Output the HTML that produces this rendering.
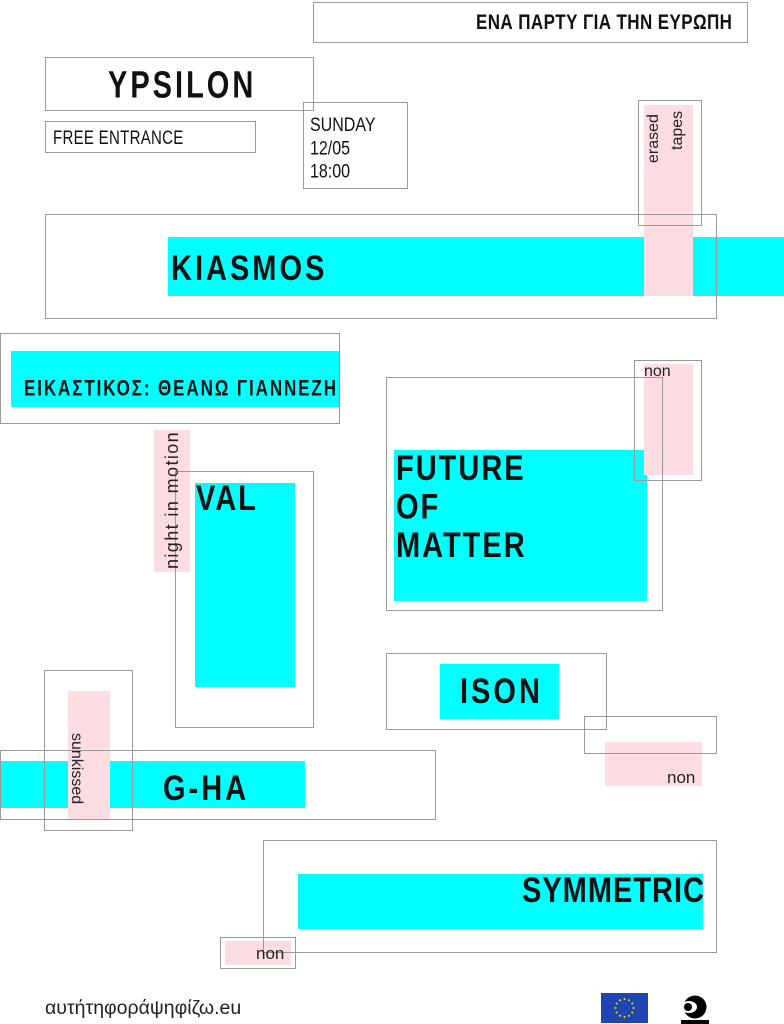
<!DOCTYPE html>
<html><head><meta charset="utf-8"><style>
html,body{margin:0;padding:0;background:#fff;}
body{width:784px;height:1024px;position:relative;overflow:hidden;font-family:"Liberation Sans",sans-serif;}
.b{position:absolute;border:1px solid #9a9a9a;box-sizing:border-box;z-index:3;}
.c{position:absolute;background:#00ffff;z-index:1;}
.p{position:absolute;background:#fddde1;z-index:2;}
.t{position:absolute;z-index:4;font-family:"Liberation Sans Narrow","Liberation Sans",sans-serif;font-weight:bold;color:#111;white-space:nowrap;transform-origin:0 0;}
.s{position:absolute;z-index:4;font-family:"Liberation Sans","DejaVu Sans",sans-serif;color:#222;white-space:nowrap;}
.v{transform:rotate(90deg);transform-origin:0 0;}
.u{transform:rotate(-90deg);transform-origin:0 0;}
</style></head><body>
<div class="b" style="left:313px;top:2px;width:435px;height:41px"></div>
<div class="t" style="left:476px;top:10px;font-size:17px;letter-spacing:0.4px;transform:scaleY(1.25)">ΕΝΑ ΠΑΡΤΥ ΓΙΑ ΤΗΝ ΕΥΡΩΠΗ</div>

<div class="b" style="left:45px;top:57px;width:269px;height:54px"></div>
<div class="t" style="left:108px;top:65px;font-size:29px;letter-spacing:3px;transform:scaleY(1.3)">YPSILON</div>

<div class="b" style="left:45px;top:121px;width:211px;height:32px"></div>
<div class="t" style="left:53px;top:127px;font-size:15px;font-weight:normal;letter-spacing:0.3px;transform:scaleY(1.3)">FREE ENTRANCE</div>

<div class="b" style="left:303px;top:102px;width:105px;height:87px"></div>
<div class="t" style="left:310px;top:114px;font-size:16px;font-weight:normal;line-height:19px;transform:scaleY(1.22)">SUNDAY<br>12/05<br>18:00</div>

<div class="b" style="left:638px;top:100px;width:64px;height:126px"></div>
<div class="p" style="left:644px;top:105px;width:49px;height:191px"></div>
<div class="s u" style="left:645px;top:163px;font-size:16px;line-height:18px">erased</div>
<div class="s u" style="left:669px;top:150px;font-size:16px;line-height:18px">tapes</div>
<div class="b" style="left:45px;top:214px;width:672px;height:105px"></div>
<div class="c" style="left:168px;top:237px;width:616px;height:59px"></div>
<div class="t" style="left:171px;top:250px;font-size:29px;letter-spacing:3px;transform:scaleY(1.2)">KIASMOS</div>

<div class="b" style="left:0px;top:333px;width:340px;height:91px"></div>
<div class="c" style="left:11px;top:351px;width:328px;height:56px"></div>
<div class="t" style="left:24px;top:376px;font-size:17px;letter-spacing:1.9px;transform:scaleY(1.3)">ΕΙΚΑΣΤΙΚΟΣ: ΘΕΑΝΩ ΓΙΑΝΝΕΖΗ</div>

<div class="b" style="left:634px;top:360px;width:68px;height:121px"></div>
<div class="p" style="left:644px;top:364px;width:49px;height:111px"></div>
<div class="s" style="left:644px;top:363px;font-size:16px">non</div>
<div class="b" style="left:386px;top:377px;width:277px;height:234px"></div>
<div class="c" style="left:394px;top:450px;width:253px;height:151px"></div>
<div class="t" style="left:396px;top:450px;font-size:29px;line-height:32px;letter-spacing:2px;transform:scaleY(1.2)">FUTURE<br>OF<br>MATTER</div>

<div class="p" style="left:154px;top:430px;width:36px;height:142px"></div>
<div class="s" style="left:162px;top:569px;font-size:18px;letter-spacing:1.4px;line-height:20px;transform:rotate(-90deg);transform-origin:0 0">night in motion</div>
<div class="b" style="left:175px;top:471px;width:139px;height:257px"></div>
<div class="c" style="left:195px;top:483px;width:100px;height:204px"></div>
<div class="t" style="left:196px;top:480px;font-size:29px;letter-spacing:2px;transform:scaleY(1.2)">VAL</div>

<div class="b" style="left:386px;top:653px;width:221px;height:77px"></div>
<div class="c" style="left:440px;top:664px;width:119px;height:55px"></div>
<div class="t" style="left:460px;top:673px;font-size:29px;letter-spacing:3px;transform:scaleY(1.2)">ISON</div>
<div class="b" style="left:584px;top:716px;width:133px;height:38px"></div>
<div class="p" style="left:605px;top:742px;width:97px;height:44px"></div>
<div class="s" style="left:667px;top:768px;font-size:17px">non</div>

<div class="b" style="left:44px;top:670px;width:89px;height:161px"></div>
<div class="p" style="left:68px;top:691px;width:42px;height:129px"></div>
<div class="b" style="left:0px;top:750px;width:436px;height:70px"></div>
<div class="c" style="left:0px;top:761px;width:68px;height:47px"></div>
<div class="c" style="left:110px;top:761px;width:195px;height:47px"></div>
<div class="s v" style="left:85px;top:733px;font-size:16px">sunkissed</div>
<div class="t" style="left:163px;top:770px;font-size:29px;letter-spacing:3px;transform:scaleY(1.2)">G-HA</div>

<div class="b" style="left:263px;top:840px;width:454px;height:113px"></div>
<div class="c" style="left:298px;top:874px;width:405px;height:55px"></div>
<div class="t" style="left:522px;top:872px;font-size:29px;letter-spacing:1px;transform:scaleY(1.2)">SYMMETRIC</div>
<div class="b" style="left:220px;top:937px;width:76px;height:32px"></div>
<div class="p" style="left:225px;top:941px;width:66px;height:24px"></div>
<div class="s" style="left:256px;top:944px;font-size:17px">non</div>

<div class="s" style="left:45px;top:997px;font-size:19.5px">αυτήτηφοράψηφίζω.eu</div>
<svg style="position:absolute;left:601px;top:993px" width="47" height="30" viewBox="0 0 47 30">
<rect width="47" height="30" fill="#1f45b4"/>
<g fill="#ffe000">
<circle cx="23.5" cy="6" r="1"/><circle cx="28" cy="7.2" r="1"/><circle cx="31.3" cy="10.5" r="1"/><circle cx="32.5" cy="15" r="1"/><circle cx="31.3" cy="19.5" r="1"/><circle cx="28" cy="22.8" r="1"/><circle cx="23.5" cy="24" r="1"/><circle cx="19" cy="22.8" r="1"/><circle cx="15.7" cy="19.5" r="1"/><circle cx="14.5" cy="15" r="1"/><circle cx="15.7" cy="10.5" r="1"/><circle cx="19" cy="7.2" r="1"/>
</g></svg>
<svg style="position:absolute;left:674px;top:995px" width="42" height="29" viewBox="0 0 42 29">
<circle cx="21" cy="12" r="11.5" fill="#000"/>
<ellipse cx="15" cy="12" rx="8" ry="6" fill="#fff"/>
<circle cx="14" cy="12" r="4" fill="#000"/>
<rect x="7" y="25" width="28" height="4" fill="#000"/>
</svg>
</body></html>
